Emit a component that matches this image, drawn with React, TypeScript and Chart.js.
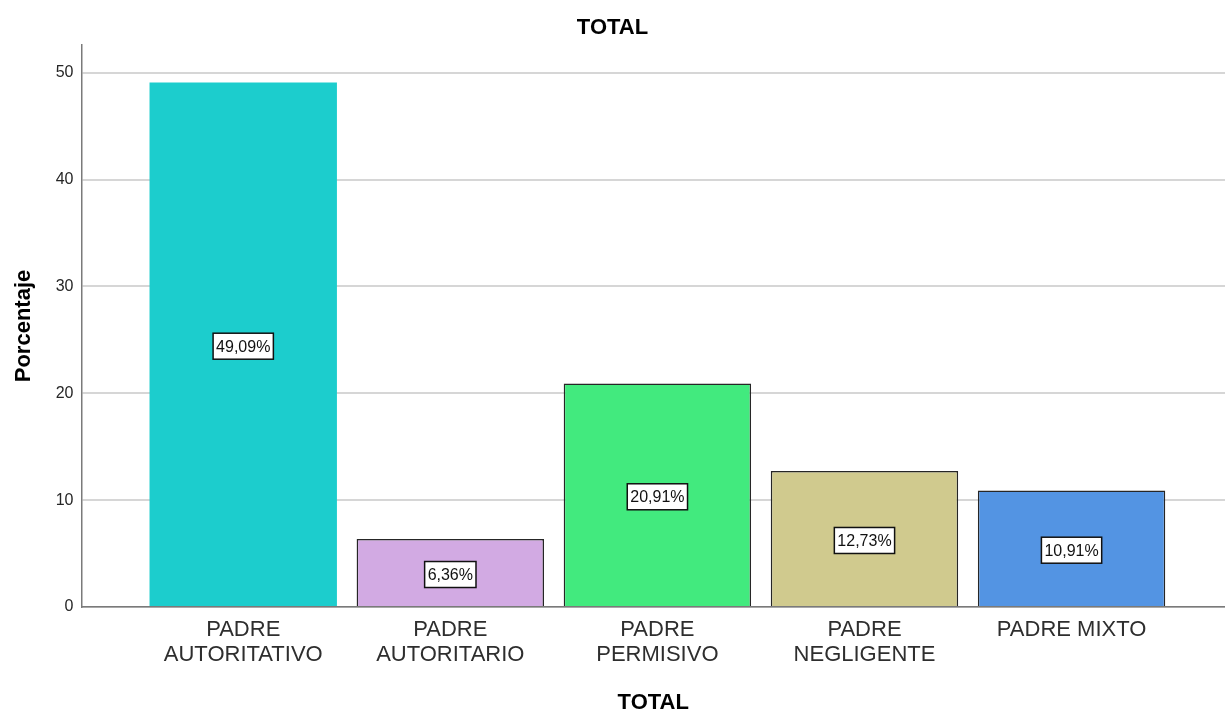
import React, { useEffect, useRef } from "react";
import { Chart, registerables } from "chart.js";

Chart.register(...registerables);

const CATEGORIES: string[][] = [
  ["PADRE", "AUTORITATIVO"],
  ["PADRE", "AUTORITARIO"],
  ["PADRE", "PERMISIVO"],
  ["PADRE", "NEGLIGENTE"],
  ["PADRE MIXTO"],
];
const PERCENTAGES: number[] = [49.09, 6.36, 20.91, 12.73, 10.91];
const BAR_COLORS: string[] = ["#1ccdcd", "#d2aae3", "#42ea7e", "#d0ca8e", "#5394e3"];
const BAR_BORDERS: number[] = [0, 1.5, 1.5, 1.5, 1.5];
const Y_TICKS: number[] = [0, 10, 20, 30, 40, 50];

const FONT = "'Liberation Sans', Arial, sans-serif";

const labelPlugin = {
  id: "boxLabels",
  afterDatasetsDraw(chart: any) {
    const ctx = chart.ctx;
    const meta = chart.getDatasetMeta(0);
    ctx.save();
    ctx.font = `16px ${FONT}`;
    ctx.textAlign = "center";
    ctx.textBaseline = "middle";
    meta.data.forEach((el: any, i: number) => {
      const text = PERCENTAGES[i].toFixed(2).replace(".", ",") + "%";
      const w = ctx.measureText(text).width + 6;
      const h = 26;
      const cx = el.x;
      const cy = (el.y + el.base) / 2 + 2;
      ctx.fillStyle = "#ffffff";
      ctx.fillRect(cx - w / 2, cy - h / 2, w, h);
      ctx.lineWidth = 1.5;
      ctx.strokeStyle = "#111111";
      ctx.strokeRect(cx - w / 2, cy - h / 2, w, h);
      ctx.fillStyle = "#111111";
      ctx.fillText(text, cx, cy + 1);
    });
    ctx.restore();
  },
};

export default function App() {
  const ref = useRef<HTMLCanvasElement | null>(null);

  useEffect(() => {
    if (!ref.current) return;
    const chart = new Chart(ref.current, {
      type: "bar",
      data: {
        datasets: [
          {
            data: PERCENTAGES.map((v, i) => ({ x: i, y: v })),
            backgroundColor: BAR_COLORS,
            borderColor: "#262626",
            borderWidth: BAR_BORDERS,
            barPercentage: 0.905,
            categoryPercentage: 1,
          } as any,
        ],
      },
      options: {
        responsive: false,
        animation: false,
        layout: { padding: 0 },
        plugins: {
          legend: { display: false },
          tooltip: { enabled: false },
          title: {
            display: true,
            text: "TOTAL",
            color: "#000000",
            font: { family: FONT, size: 22, weight: "bold", lineHeight: 1.2 },
            padding: { top: 14.5, bottom: 4.1 },
          },
        },
        scales: {
          x: {
            type: "linear",
            min: -0.781,
            max: 4.741,
            offset: false,
            grid: { display: true, color: "rgba(0,0,0,0)", drawTicks: false },
            border: { display: true, color: "#7a7a7a", width: 1.5 },
            ticks: {
              stepSize: 1,
              includeBounds: false,
              autoSkip: false,
              maxRotation: 0,
              minRotation: 0,
              padding: 11,
              color: "#2e2e2e",
              font: { family: FONT, size: 22, lineHeight: 1.12 },
              callback: (value: any) => CATEGORIES[Number(value)] ?? "",
            },
            afterBuildTicks: (scale: any) => {
              scale.ticks = CATEGORIES.map((_, i) => ({ value: i }));
            },
            afterFit: (scale: any) => {
              scale.height = 105;
            },
            title: {
              display: true,
              text: "TOTAL",
              color: "#000000",
              font: { family: FONT, size: 22, weight: "bold", lineHeight: 0.85 },
              padding: { top: 0, bottom: 0 },
            },
          },
          y: {
            min: 0,
            max: 52.59,
            grid: { color: "#d6d6d6", lineWidth: 2, drawTicks: false },
            border: { display: true, color: "#7a7a7a", width: 1.5 },
            ticks: {
              padding: 8,
              color: "#262626",
              font: { family: FONT, size: 16 },
            },
            afterBuildTicks: (scale: any) => {
              scale.ticks = Y_TICKS.map((v) => ({ value: v }));
            },
            afterFit: (scale: any) => {
              scale.width = 81.5;
            },
            title: {
              display: true,
              text: "Porcentaje",
              color: "#000000",
              font: { family: FONT, size: 22, weight: "bold", lineHeight: 1 },
              padding: { top: 13, bottom: 0 },
            },
          },
        },
      } as any,
      plugins: [labelPlugin],
    });
    return () => chart.destroy();
  }, []);

  return (
    <div style={{ position: "fixed", left: 0, top: 0, width: 1225, height: 712, background: "#ffffff" }}>
      <canvas ref={ref} width={1225} height={712} style={{ display: "block" }} />
    </div>
  );
}
